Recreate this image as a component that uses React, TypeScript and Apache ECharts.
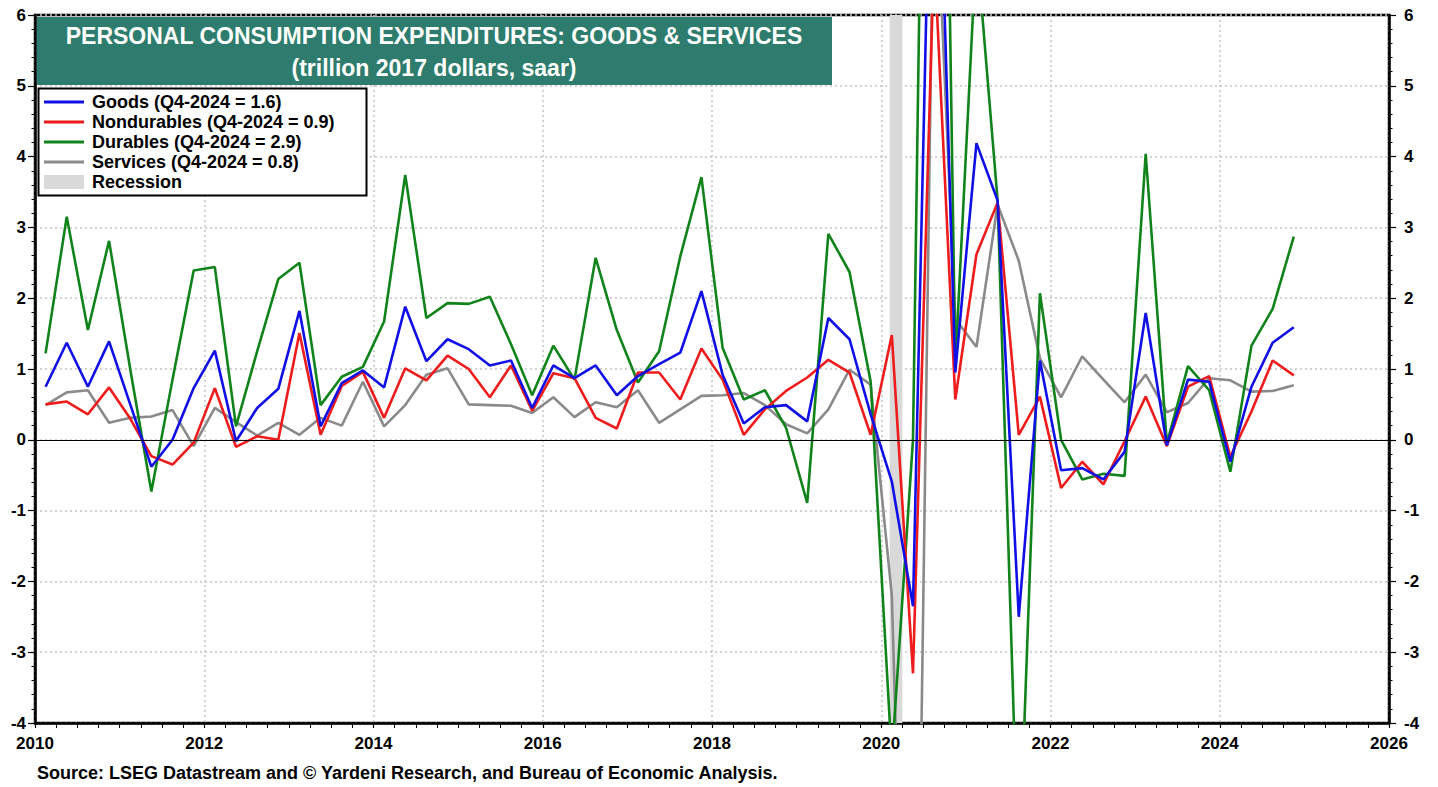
import React, { useEffect, useRef } from "react";
import * as echarts from "echarts";

// Quarterly observations, 2010 Q1 .. 2024 Q4 (percent change q/q)
const quarters: string[] = [];
for (let y = 2010; y <= 2024; y++) for (let q = 1; q <= 4; q++) quarters.push(`${y}Q${q}`);

const goods = [
  0.75, 1.37, 0.75, 1.39, 0.5, -0.38, 0.0, 0.73, 1.26, -0.02, 0.45, 0.72, 1.82, 0.19, 0.8, 0.98,
  0.74, 1.88, 1.11, 1.42, 1.28, 1.05, 1.12, 0.45, 1.05, 0.87, 1.05, 0.63, 0.9, 1.07, 1.23, 2.1,
  0.92, 0.23, 0.46, 0.49, 0.26, 1.72, 1.42, 0.36, -0.59, -2.35, 11.0, 0.95, 4.19, 3.38,
  -2.5, 1.12, -0.43, -0.4, -0.56, -0.17, 1.79, -0.08, 0.85, 0.82, -0.31, 0.75, 1.37, 1.59,
];
const nondurables = [
  0.5, 0.54, 0.36, 0.74, 0.3, -0.23, -0.35, -0.04, 0.73, -0.1, 0.05, 0.0, 1.51, 0.07, 0.76, 0.96,
  0.31, 1.01, 0.84, 1.19, 1.0, 0.6, 1.05, 0.41, 0.94, 0.87, 0.31, 0.16, 0.95, 0.95, 0.57, 1.29,
  0.85, 0.07, 0.43, 0.69, 0.88, 1.13, 0.95, 0.07, 1.48, -3.3, 6.9, 0.57, 2.62, 3.35,
  0.07, 0.61, -0.68, -0.31, -0.63, -0.02, 0.61, -0.09, 0.75, 0.9, -0.24, 0.4, 1.12, 0.91,
];
const durables = [
  1.22, 3.15, 1.55, 2.81, 1.0, -0.73, 0.85, 2.39, 2.44, 0.19, 1.25, 2.27, 2.5, 0.49, 0.89, 1.03,
  1.67, 3.74, 1.72, 1.93, 1.92, 2.02, 1.35, 0.63, 1.33, 0.85, 2.57, 1.55, 0.81, 1.25, 2.59, 3.71,
  1.3, 0.57, 0.7, 0.17, -0.89, 2.91, 2.37, 0.82, -4.5, 0.0, 20.5, 1.05, 7.0, 3.38,
  -6.2, 2.07, 0.0, -0.56, -0.48, -0.51, 4.04, -0.05, 1.04, 0.7, -0.45, 1.33, 1.85, 2.87,
];
const services = [
  0.49, 0.67, 0.7, 0.24, 0.31, 0.33, 0.42, -0.09, 0.45, 0.25, 0.06, 0.24, 0.07, 0.31, 0.2, 0.82,
  0.19, 0.49, 0.92, 1.01, 0.5, 0.49, 0.48, 0.38, 0.6, 0.32, 0.53, 0.46, 0.7, 0.24, 0.43, 0.62,
  0.63, 0.66, 0.49, 0.22, 0.09, 0.43, 0.99, 0.78, -2.2, -12.5, 8.5, 1.71, 1.31, 3.32,
  2.53, 1.15, 0.6, 1.18, 0.85, 0.53, 0.92, 0.39, 0.52, 0.87, 0.84, 0.68, 0.69, 0.77,
];
const recession = [2020.1, 2020.25];
const xTicks = [2010, 2012, 2014, 2016, 2018, 2020, 2022, 2024, 2026];
const yTicks = [-4, -3, -2, -1, 0, 1, 2, 3, 4, 5, 6];

const legendItems = [
  { name: "Goods (Q4-2024 = 1.6)", color: "#1010e6", kind: "line" },
  { name: "Nondurables (Q4-2024 = 0.9)", color: "#ee1c1c", kind: "line" },
  { name: "Durables (Q4-2024 = 2.9)", color: "#10841a", kind: "line" },
  { name: "Services (Q4-2024 = 0.8)", color: "#8a8a8a", kind: "line" },
  { name: "Recession", color: "#d9d9d9", kind: "rect" },
];

const FONT = "'Liberation Sans', Arial, Helvetica, sans-serif";

function toPoints(vals: number[]) {
  return quarters.map((q, i) => {
    const y = Number(q.slice(0, 4));
    const qq = Number(q.slice(5));
    return [y + (qq - 1) / 4 + 0.125, vals[i]];
  });
}

export default function App() {
  const ref = useRef<HTMLDivElement>(null);
  useEffect(() => {
    if (!ref.current) return;
    const chart = echarts.init(ref.current, null, { renderer: "svg" });
    const gridLine = { show: true, lineStyle: { color: "#c4c4c4", type: [2, 3], width: 1.5 } };
    const yBase = (pos: "left" | "right", margin: number, split: boolean) => ({
      type: "value",
      position: pos,
      min: yTicks[0],
      max: yTicks[yTicks.length - 1],
      interval: 1,
      axisLine: { show: true, onZero: false, lineStyle: { color: "#000", width: 2.5 } },
      axisTick: { show: true, length: 7, lineStyle: { color: "#000", width: 1.2 } },
      minorTick: { show: true, splitNumber: 5, length: 3.5, lineStyle: { color: "#000", width: 1 } },
      axisLabel: { fontFamily: FONT, fontWeight: "bold", fontSize: 17, color: "#000", margin },
      splitLine: split ? gridLine : { show: false },
    });
    const lineSeries = (name: string, vals: number[], color: string, extra: any = {}) => ({
      name,
      type: "line",
      data: toPoints(vals),
      showSymbol: false,
      symbol: "none",
      clip: true,
      lineStyle: { color, width: 2.6 },
      itemStyle: { color },
      z: 3,
      ...extra,
    });
    const legendGraphic: any[] = [];
    legendItems.forEach((it, i) => {
      const cy = 102 + i * 20;
      if (it.kind === "line") {
        legendGraphic.push({
          type: "line",
          z: 20,
          shape: { x1: 44, y1: cy, x2: 84, y2: cy },
          style: { stroke: it.color, lineWidth: 3 },
        });
      } else {
        legendGraphic.push({
          type: "rect",
          z: 20,
          shape: { x: 44, y: cy - 7, width: 40, height: 14 },
          style: { fill: it.color },
        });
      }
      legendGraphic.push({
        type: "text",
        z: 20,
        x: 92,
        y: cy,
        style: {
          text: it.name,
          fontFamily: FONT,
          fontWeight: "bold",
          fontSize: 18,
          fill: "#000",
          textVerticalAlign: "middle",
          verticalAlign: "middle",
        },
      });
    });

    const titleStyle = (text: string) => ({
      text,
      fontFamily: FONT,
      fontWeight: "bold",
      fontSize: 23,
      fill: "#fff",
      align: "center",
      textAlign: "center",
      verticalAlign: "middle",
      textVerticalAlign: "middle",
    });

    chart.setOption({
      animation: false,
      backgroundColor: "#fff",
      grid: {
        left: 35,
        right: 49,
        top: 15,
        bottom: 64,
        show: true,
        borderColor: "#000",
        borderWidth: 2.5,
        backgroundColor: "transparent",
      },
      xAxis: {
        type: "value",
        min: xTicks[0],
        max: xTicks[xTicks.length - 1],
        interval: 2,
        axisLine: { show: true, onZero: false, lineStyle: { color: "#000", width: 2.5 } },
        axisTick: { show: true, length: 5, lineStyle: { color: "#000", width: 1.2 } },
        minorTick: { show: true, splitNumber: 8, length: 5, lineStyle: { color: "#000", width: 1 } },
        axisLabel: {
          fontFamily: FONT,
          fontWeight: "bold",
          fontSize: 17,
          color: "#000",
          margin: 12,
          formatter: (v: number) => String(v),
        },
        splitLine: gridLine,
      },
      yAxis: [yBase("left", 9, true), yBase("right", 15, false)],
      series: [
        lineSeries("Services", services, legendItems[3].color, {
          markArea: {
            silent: true,
            itemStyle: { color: "#d9d9d9" },
            data: [[{ xAxis: recession[0] }, { xAxis: recession[1] }]],
          },
          markLine: {
            silent: true,
            symbol: ["none", "none"],
            label: { show: false },
            lineStyle: { color: "#000", type: "solid", width: 1 },
            data: [{ yAxis: 0 }],
          },
        }),
        lineSeries("Durables", durables, legendItems[2].color),
        lineSeries("Nondurables", nondurables, legendItems[1].color),
        lineSeries("Goods", goods, legendItems[0].color),
      ],
      graphic: [
        {
          type: "rect",
          z: 20,
          shape: { x: 37, y: 17, width: 795, height: 68 },
          style: { fill: "#2e7c6d" },
        },
        { type: "text", z: 21, x: 434, y: 36, style: titleStyle("PERSONAL CONSUMPTION EXPENDITURES: GOODS & SERVICES") },
        { type: "text", z: 21, x: 434, y: 68, style: titleStyle("(trillion 2017 dollars, saar)") },
        {
          type: "rect",
          z: 19,
          shape: { x: 38.5, y: 88.5, width: 328, height: 107 },
          style: { fill: "#fff", stroke: "#000", lineWidth: 2 },
        },
        ...legendGraphic,
        {
          type: "text",
          z: 20,
          x: 37,
          y: 773,
          style: {
            text: "Source: LSEG Datastream and \u00a9 Yardeni Research, and Bureau of Economic Analysis.",
            fontFamily: FONT,
            fontWeight: "bold",
            fontSize: 18,
            fill: "#000",
            verticalAlign: "middle",
            textVerticalAlign: "middle",
          },
        },
      ],
    });
    return () => chart.dispose();
  }, []);
  return (
    <div
      ref={ref}
      style={{ position: "fixed", left: 0, top: 0, width: 1438, height: 787, background: "#fff" }}
    />
  );
}
